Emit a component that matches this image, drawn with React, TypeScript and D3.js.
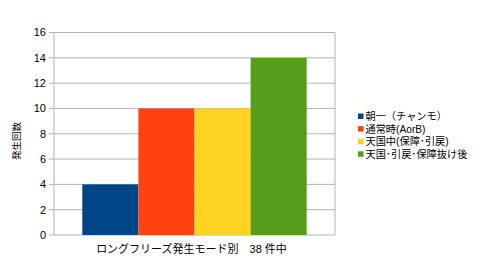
import React from "react";
import * as d3 from "d3";

const categories = ["朝一（チャンモ）", "通常時(AorB)", "天国中(保障･引戻)", "天国･引戻･保障抜け後"];
const values = [4, 10, 10, 14];
const colors = ["#004586", "#ff420e", "#ffd320", "#579d1c"];
const yTicks = [0, 2, 4, 6, 8, 10, 12, 14, 16];
const xTitle = "ロングフリーズ発生モード別　38 件中";
const yTitle = "発生回数";

export default function App() {
  const W = 480, H = 268;
  const left = 54, right = 335, top = 32.5, bottom = 235;
  const y = d3.scaleLinear().domain([0, 16]).range([bottom, top]);
  const x = d3.scaleBand<string>().domain(categories).range([82.3, 306.7]).paddingInner(0);
  const font = "'Liberation Sans', 'Noto Sans CJK JP', sans-serif";
  return (
    <svg width={W} height={H} style={{ position: "absolute", left: 0, top: 0, background: "#fff" }} fontFamily={font}>
      <rect x={0} y={0} width={W} height={H} fill="#fff" />
      {yTicks.map((t) => (
        <g key={t}>
          <line x1={left} x2={right} y1={y(t)} y2={y(t)} stroke="#b3b3b3" strokeWidth={1} />
          <line x1={49} x2={left} y1={y(t)} y2={y(t)} stroke="#b3b3b3" strokeWidth={1} />
          <text x={46} y={y(t)} dy="0.36em" textAnchor="end" fontSize={11} fill="#000">{t}</text>
        </g>
      ))}
      <line x1={right} x2={right} y1={top} y2={bottom} stroke="#b3b3b3" />
      <line x1={left} x2={left} y1={top} y2={bottom} stroke="#b3b3b3" />
      {categories.map((c, i) => (
        <rect key={c} x={x(c)} y={y(values[i])} width={x.bandwidth()} height={bottom - y(values[i])} fill={colors[i]} />
      ))}
      <text x={191.5} y={253} textAnchor="middle" fontSize={11} fill="#000">{xTitle}</text>
      <text transform="translate(19.5,141) rotate(-90)" textAnchor="middle" fontSize={9.5} fill="#000">{yTitle}</text>
      {categories.map((c, i) => (
        <g key={c} transform={`translate(358,${113.5 + i * 12.6})`}>
          <rect x={0} y={0} width={5.5} height={5.5} fill={colors[i]} />
          <text x={7.5} y={2.75} dy="0.38em" fontSize={10.2} fill="#000">{c}</text>
        </g>
      ))}
    </svg>
  );
}
